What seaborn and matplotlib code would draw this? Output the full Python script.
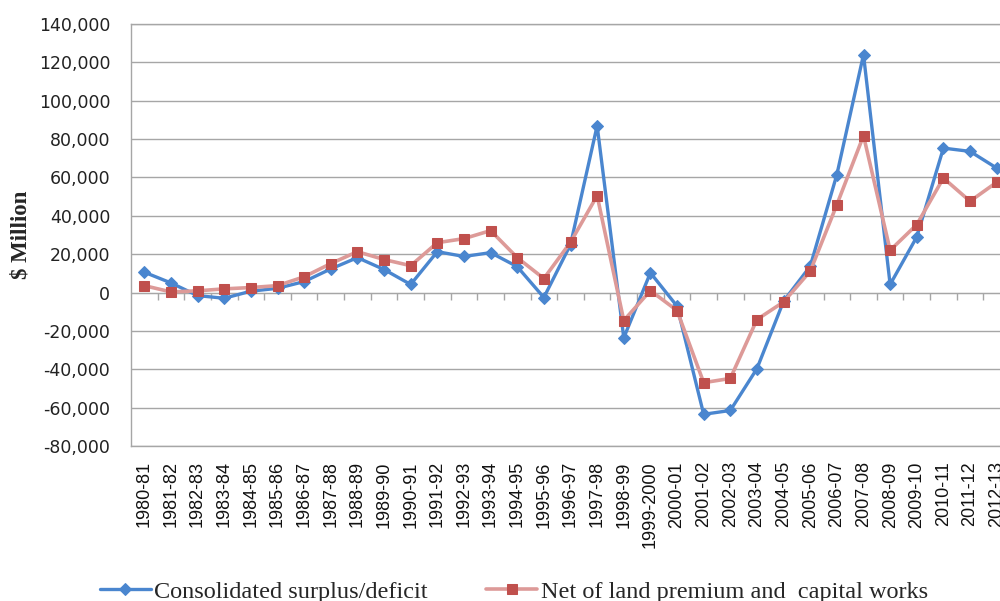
import numpy as np
import pandas as pd
import matplotlib
matplotlib.use("Agg")
import matplotlib.pyplot as plt
import seaborn as sns
from matplotlib.ticker import FuncFormatter, MultipleLocator

# Fiscal years
years = [
    "1980-81", "1981-82", "1982-83", "1983-84", "1984-85", "1985-86", "1986-87",
    "1987-88", "1988-89", "1989-90", "1990-91", "1991-92", "1992-93", "1993-94",
    "1994-95", "1995-96", "1996-97", "1997-98", "1998-99", "1999-2000", "2000-01",
    "2001-02", "2002-03", "2003-04", "2004-05", "2005-06", "2006-07", "2007-08",
    "2008-09", "2009-10", "2010-11", "2011-12", "2012-13",
]

# $ million
consolidated = [
    10600, 5000, -1600, -3000, 700, 2200, 5700,
    12300, 18200, 12000, 4200, 21300, 18800, 20800,
    13500, -2600, 25000, 87000, -23600, 10300, -7100,
    -63500, -61500, -39700, -4500, 13700, 61500, 124000,
    4200, 29000, 75300, 73600, 64900,
]
net_land_capital = [
    3600, 300, 900, 1900, 2600, 3600, 8200,
    15100, 21300, 17200, 14000, 26000, 28100, 32300,
    18200, 7300, 26200, 50500, -14600, 1000, -9400,
    -47000, -44800, -14100, -4900, 11100, 45800, 81800,
    22000, 35400, 59700, 47600, 57500,
]

labels = ["Consolidated surplus/deficit", "Net of land premium and  capital works"]

BLUE = "#4A86CF"
RED_LINE = "#DD9A98"
RED_MARK = "#C0504D"
GRID = "#A6A6A6"

sns.set_style("white")
plt.rcParams["font.family"] = ["DejaVu Sans"]

df = pd.DataFrame({
    "pos": np.arange(len(years)),
    "period": years,
    "consolidated": consolidated,
    "net": net_land_capital,
})

fig = plt.figure(figsize=(10, 6.01), dpi=100)
ax = fig.add_axes([0.131, 0.258, 0.879, 0.702])

sns.lineplot(data=df, x="pos", y="consolidated", ax=ax, color=BLUE, linewidth=2.4,
             marker="D", markersize=6, markerfacecolor=BLUE, markeredgecolor=BLUE,
             zorder=3)
sns.lineplot(data=df, x="pos", y="net", ax=ax, color=RED_LINE, linewidth=2.6,
             marker="s", markersize=7, markerfacecolor=RED_MARK, markeredgecolor=RED_MARK,
             zorder=4)

ymin, ymax = -80000, 140000
ax.set_ylim(ymin, ymax)
ax.set_xlim(-0.5, len(years) - 0.5)
ax.yaxis.set_major_locator(MultipleLocator(20000))
ax.yaxis.set_major_formatter(FuncFormatter(lambda v, p: f"{v:,.0f}"))
ax.grid(axis="y", color=GRID, linewidth=1.0)
ax.grid(axis="x", visible=False)
ax.set_axisbelow(True)

for side in ["left", "bottom", "top", "right"]:
    ax.spines[side].set_color(GRID)
    ax.spines[side].set_linewidth(1.0)

ax.tick_params(axis="y", length=0, pad=15, labelsize=12.5, labelcolor="#222222")
ax.set_xticks(df["pos"])
ax.set_xticklabels(years, rotation=90, fontsize=13, family="Liberation Sans",
                   color="#111111")
ax.tick_params(axis="x", length=0, pad=11)

ax.set_xlabel("")
ax.set_ylabel("$ Million", fontsize=16.5, fontweight="bold", family="Liberation Serif",
              labelpad=5)

# category boundary ticks on the zero line
zero_frac = (0 - ymin) / (ymax - ymin)
sec = ax.secondary_xaxis(zero_frac)
sec.set_xticks(np.arange(0.5, len(years) - 0.5, 1.0))
sec.tick_params(axis="x", direction="out", length=5, width=1.0, color=GRID,
                labelbottom=False, labeltop=False, bottom=True, top=False)
sec.spines["bottom"].set_color(GRID)
sec.spines["top"].set_visible(False)
sec.xaxis.set_ticks_position("bottom")
sec.tick_params(labelbottom=False)

handles = ax.get_lines()[:2]
fig.legend(handles, labels, loc="center", bbox_to_anchor=(0.514, 0.015), ncol=2,
           frameon=False, prop={"family": "Liberation Serif", "size": 17.5},
           handlelength=2.1, handletextpad=0.15, columnspacing=2.4)

fig.savefig("out.png", dpi=100)
